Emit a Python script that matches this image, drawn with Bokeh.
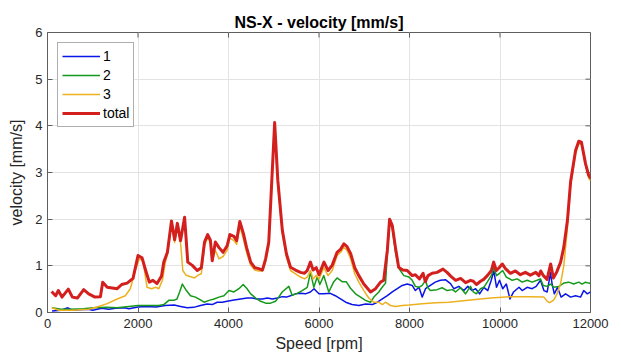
import math
from bokeh.plotting import figure
from bokeh.models import FixedTicker, Range1d, Legend, LegendItem
from bokeh.embed import file_html
from bokeh.resources import INLINE

title_text = "NS-X - velocity [mm/s]"
x_label = "Speed [rpm]"
y_label = "velocity [mm/s]"
x_ticks = [0, 2000, 4000, 6000, 8000, 10000, 12000]
y_ticks = [0, 1, 2, 3, 4, 5, 6]
series_names = ["1", "2", "3", "total"]

# component 1 (blue)
rpm_1 = [100, 300, 450, 550, 700, 900, 1000, 1200, 1350, 1500, 1700, 1800, 2000, 2200, 2400, 2600, 2800, 2940,
         3090, 3230, 3380, 3530, 3640, 3750, 3860, 3970, 4120, 4270, 4410, 4520, 4640, 4750, 4860, 4970, 5080,
         5190, 5280, 5370, 5480, 5590, 5700, 5810, 5890, 5960, 6000, 6106, 6250, 6360, 6475, 6590, 6730, 6880,
         7030, 7180, 7290, 7400, 7510, 7620, 7730, 7840, 7950, 8060, 8130, 8210, 8280, 8354, 8460, 8570, 8680,
         8800, 8906, 8980, 9090, 9200, 9290, 9380, 9460, 9550, 9643, 9730, 9806, 9864, 9923, 9990, 10060, 10140,
         10220, 10300, 10420, 10490, 10600, 10710, 10800, 10895, 10970, 11043, 11116, 11150, 11200, 11270, 11350,
         11450, 11560, 11670, 11780, 11850, 11930, 12000]
vel_1 = [0.03, 0.05, 0.10, 0.05, 0.06, 0.07, 0.05, 0.09, 0.07, 0.09, 0.10, 0.08, 0.12, 0.13, 0.12, 0.15, 0.16, 0.13,
         0.10, 0.11, 0.15, 0.18, 0.17, 0.22, 0.22, 0.24, 0.27, 0.29, 0.31, 0.31, 0.29, 0.29, 0.31, 0.29, 0.31,
         0.34, 0.33, 0.36, 0.40, 0.41, 0.40, 0.44, 0.51, 0.44, 0.40, 0.40, 0.41, 0.36, 0.29, 0.22, 0.17, 0.15,
         0.18, 0.17, 0.22, 0.29, 0.36, 0.44, 0.51, 0.58, 0.61, 0.58, 0.47, 0.54, 0.33, 0.51, 0.58, 0.65, 0.69,
         0.70, 0.62, 0.51, 0.56, 0.47, 0.56, 0.47, 0.51, 0.40, 0.54, 0.47, 0.69, 0.89, 0.54, 0.69, 0.51, 0.61,
         0.29, 0.44, 0.54, 0.47, 0.54, 0.51, 0.56, 0.69, 0.47, 0.44, 0.85, 0.62, 0.40, 0.54, 0.33,
         0.40, 0.33, 0.36, 0.33, 0.47, 0.40, 0.44]

# component 2 (green)
rpm_2 = [100, 300, 500, 800, 1000, 1300, 1540, 1800, 2000, 2240, 2460, 2570, 2680, 2790, 2860, 2920, 2980,
         3070, 3160, 3270, 3380, 3460, 3570, 3680, 3790, 3900, 4010, 4120, 4230, 4325, 4410, 4490, 4600, 4710,
         4820, 4930, 5040, 5110, 5186, 5333, 5407, 5518, 5629, 5740, 5812, 5886, 5960, 6018, 6106, 6216, 6327,
         6400, 6512, 6600, 6696, 6807, 6918, 7028, 7138, 7212, 7322, 7396, 7470, 7510, 7560, 7620, 7690, 7760,
         7875, 7990, 8060, 8130, 8210, 8280, 8354, 8400, 8460, 8610, 8720, 8833, 8950, 9017, 9127, 9238, 9348,
         9410, 9480, 9570, 9643, 9717, 9806, 9864, 9923, 9990, 10060, 10140, 10270, 10380, 10490, 10600, 10710,
         10820, 10895, 10955, 11043, 11116, 11190, 11300, 11410, 11520, 11630, 11740, 11815, 11890, 11960, 12000]
vel_2 = [0.10, 0.07, 0.07, 0.08, 0.10, 0.11, 0.10, 0.13, 0.15, 0.15, 0.15, 0.17, 0.26, 0.26, 0.29, 0.44, 0.61,
         0.47, 0.36, 0.33, 0.27, 0.22, 0.26, 0.29, 0.33, 0.36, 0.47, 0.44, 0.51, 0.60, 0.51, 0.40, 0.31, 0.24,
         0.20, 0.20, 0.24, 0.33, 0.44, 0.56, 0.37, 0.41, 0.47, 0.54, 0.86, 0.54, 0.76, 0.60, 0.79, 0.44, 0.66,
         0.74, 0.66, 0.66, 0.52, 0.40, 0.33, 0.26, 0.22, 0.33, 0.44, 0.54, 0.63, 1.25, 1.92, 1.80, 1.30, 0.95,
         0.79, 0.76, 0.69, 0.56, 0.54, 0.58, 0.69, 0.54, 0.47, 0.49, 0.53, 0.47, 0.49, 0.44, 0.53, 0.40, 0.56,
         0.44, 0.40, 0.51, 0.54, 0.65, 0.79, 0.96, 0.79, 0.84, 0.90, 0.76, 0.69, 0.72, 0.65, 0.69, 0.65,
         0.69, 0.72, 0.58, 0.56, 0.61, 0.54, 0.56, 0.63, 0.65, 0.61, 0.65, 0.61, 0.65, 0.63, 0.62]

# component 3 (yellow)
rpm_3 = [90, 250, 550, 910, 1130, 1320, 1540, 1720, 1830, 1940, 2030, 2110, 2200, 2300, 2390, 2460, 2540, 2600,
         2650, 2740, 2810, 2870, 2940, 2990, 3060, 3150, 3250, 3330, 3400, 3470, 3540, 3600, 3640, 3710, 3790,
         3880, 3970, 4030, 4120, 4180, 4250, 4330, 4400, 4490, 4580, 4670, 4750, 4820, 4890, 5020, 5090, 5190,
         5280, 5370, 5480, 5590, 5680, 5740, 5810, 5870, 5940, 6000, 6106, 6200, 6292, 6400, 6480, 6549, 6620,
         6700, 6790, 6880, 6991, 7100, 7210, 7320, 7400, 7470, 7580, 7690, 7840, 7990, 8280, 8580, 8870, 9348,
         9790, 10232, 10674, 10970, 11043, 11100, 11190, 11260, 11337, 11411, 11485, 11560, 11670, 11740, 11800,
         11890, 11960, 12000]
vel_3 = [0.10, 0.05, 0.05, 0.07, 0.13, 0.19, 0.29, 0.36, 0.51, 0.90, 1.15, 1.11, 0.54, 0.51, 0.54, 0.51, 0.69, 1.05,
         1.25, 1.90, 1.50, 1.85, 1.50, 0.90, 0.80, 0.77, 0.74, 0.80, 0.83, 1.43, 1.60, 1.50, 1.11, 1.33, 1.15,
         1.20, 1.33, 1.60, 1.54, 1.46, 1.86, 1.57, 1.29, 1.01, 0.91, 0.89, 0.89, 1.08, 1.43, 4.00, 2.75, 1.69,
         1.19, 0.90, 0.83, 0.76, 0.72, 0.76, 0.90, 0.72, 0.80, 0.72, 0.96, 0.79, 0.90, 1.22, 1.29, 1.40, 1.33,
         1.15, 0.83, 0.65, 0.47, 0.31, 0.22, 0.22, 0.17, 0.22, 0.15, 0.13, 0.15, 0.16, 0.19, 0.21, 0.22, 0.27,
         0.31, 0.34, 0.34, 0.33, 0.24, 0.21, 0.27, 0.40, 0.61, 1.01, 1.76, 2.70, 3.40, 3.62, 3.60,
         3.15, 2.88, 2.82]

# total (red)
rpm_t = [90, 180, 240, 320, 460, 550, 660, 800, 910, 1050, 1170, 1220, 1320, 1540, 1640, 1760, 1890, 2000, 2090,
         2170, 2250, 2330, 2420, 2520, 2570, 2650, 2740, 2810, 2870, 2940, 3030, 3100, 3200, 3310, 3400, 3470,
         3540, 3600, 3640, 3710, 3790, 3880, 3970, 4030, 4120, 4180, 4250, 4330, 4400, 4490, 4580, 4670, 4750,
         4820, 4890, 5020, 5090, 5190, 5280, 5370, 5480, 5590, 5680, 5740, 5810, 5870, 5940, 6000, 6110, 6200,
         6290, 6400, 6480, 6550, 6620, 6700, 6790, 6880, 6990, 7140, 7250, 7360, 7430, 7510, 7560, 7620, 7690,
         7760, 7850, 7950, 8060, 8130, 8220, 8300, 8350, 8410, 8500, 8610, 8740, 8830, 8910, 9020, 9130, 9240,
         9350, 9410, 9480, 9570, 9640, 9720, 9810, 9860, 9920, 9980, 10050, 10120, 10230, 10340, 10450, 10560,
         10670, 10790, 10860, 10900, 10960, 11040, 11120, 11180, 11250, 11340, 11410, 11490, 11560, 11670, 11740,
         11800, 11890, 11960, 12000]
vel_t = [0.45, 0.36, 0.47, 0.33, 0.50, 0.33, 0.31, 0.49, 0.40, 0.33, 0.34, 0.65, 0.54, 0.51, 0.60, 0.63, 0.73, 1.22,
         1.17, 0.90, 0.65, 0.69, 0.62, 0.78, 1.08, 1.29, 1.96, 1.56, 1.91, 1.54, 2.04, 1.08, 1.01, 0.90, 0.96, 1.51,
         1.67, 1.55, 1.11, 1.51, 1.39, 1.29, 1.43, 1.67, 1.63, 1.54, 1.95, 1.69, 1.39, 1.08, 0.96, 0.94, 0.91,
         1.15, 1.51, 4.07, 2.83, 1.76, 1.26, 0.97, 0.91, 0.86, 0.84, 0.90, 1.08, 0.91, 0.96, 0.81, 1.08, 0.90,
         1.01, 1.29, 1.36, 1.47, 1.41, 1.26, 0.96, 0.79, 0.61, 0.44, 0.51, 0.65, 0.69, 1.33, 2.00, 1.86, 1.39,
         0.97, 0.91, 0.90, 0.79, 0.81, 0.72, 0.84, 0.66, 0.79, 0.84, 0.86, 0.93, 0.86, 0.78, 0.69, 0.73, 0.64,
         0.69, 0.67, 0.60, 0.67, 0.71, 0.79, 0.90, 1.08, 0.90, 0.96, 1.04, 0.94, 0.84, 0.89, 0.81, 0.86,
         0.80, 0.86, 0.79, 0.89, 0.79, 0.71, 1.04, 0.74, 0.86, 1.08, 1.40, 1.97, 2.80, 3.47, 3.67,
         3.65, 3.19, 2.94, 2.88]

colors = ["#0a14e6", "#15991a", "#edb120", "#d41f1f"]
widths = [1.5, 1.5, 1.5, 3.0]
axis_color = "#262626"
box_color = "#5e5e5e"
x_min, x_max = 0, 12000
y_min, y_max = 0, 6

p = figure(width=621, height=358, output_backend="svg", toolbar_location=None,
           x_range=Range1d(x_min, x_max), y_range=Range1d(y_min, y_max),
           min_border_left=47, min_border_right=31, min_border_top=32, min_border_bottom=46)
p.title.text = title_text
p.title.align = "center"
p.title.text_font = "Liberation Sans"
p.title.text_font_size = "16px"
p.title.text_font_style = "bold"
p.title.text_color = "#000000"
p.title.offset = 0
p.title.standoff = 3

p.background_fill_color = "white"
p.border_fill_color = "white"
p.outline_line_color = box_color
p.outline_line_width = 1

for ax in (p.xaxis[0], p.yaxis[0]):
    ax.axis_line_color = box_color
    ax.major_tick_in = 5
    ax.major_tick_out = 0
    ax.minor_tick_line_color = None
    ax.major_tick_line_color = box_color
    ax.major_label_text_font = "Liberation Sans"
    ax.major_label_text_font_size = "13px"
    ax.major_label_text_color = axis_color
    ax.axis_label_text_font = "Liberation Sans"
    ax.axis_label_text_font_size = "16px"
    ax.axis_label_text_font_style = "normal"
    ax.axis_label_text_color = axis_color

p.xaxis[0].ticker = FixedTicker(ticks=x_ticks)
p.yaxis[0].ticker = FixedTicker(ticks=y_ticks)
p.xaxis[0].axis_label = x_label
p.yaxis[0].axis_label = y_label
p.xaxis[0].major_label_standoff = 6
p.xaxis[0].axis_label_standoff = 4
p.yaxis[0].major_label_standoff = 5
p.yaxis[0].axis_label_standoff = 7

p.xgrid.ticker = FixedTicker(ticks=x_ticks)
p.ygrid.ticker = FixedTicker(ticks=y_ticks)
p.grid.grid_line_color = "#e3e3e3"
p.grid.grid_line_width = 1

# inward tick marks on the top and right edges of the box (MATLAB style)
p.ray(x=x_ticks, y=[y_max] * len(x_ticks), length=5, length_units="screen",
      angle=-math.pi / 2, line_color=box_color, line_width=1)
p.ray(x=[x_max] * len(y_ticks), y=y_ticks, length=5, length_units="screen",
      angle=math.pi, line_color=box_color, line_width=1)

xs = [rpm_1, rpm_2, rpm_3, rpm_t]
ys = [vel_1, vel_2, vel_3, vel_t]
items = []
for name, x, y, c, w in zip(series_names, xs, ys, colors, widths):
    r = p.line(x, y, line_color=c, line_width=w, line_join="round")
    items.append(LegendItem(label=name, renderers=[r]))

legend = Legend(items=items, location="top_left", margin=10, padding=4, spacing=1,
                glyph_width=38, glyph_height=18, label_height=18, label_standoff=3,
                label_text_font="Liberation Sans", label_text_font_size="14px",
                label_text_color="#000000", border_line_color=box_color,
                background_fill_color="white", background_fill_alpha=1)
p.add_layout(legend)

open("out.html", "w").write(file_html(p, INLINE))
